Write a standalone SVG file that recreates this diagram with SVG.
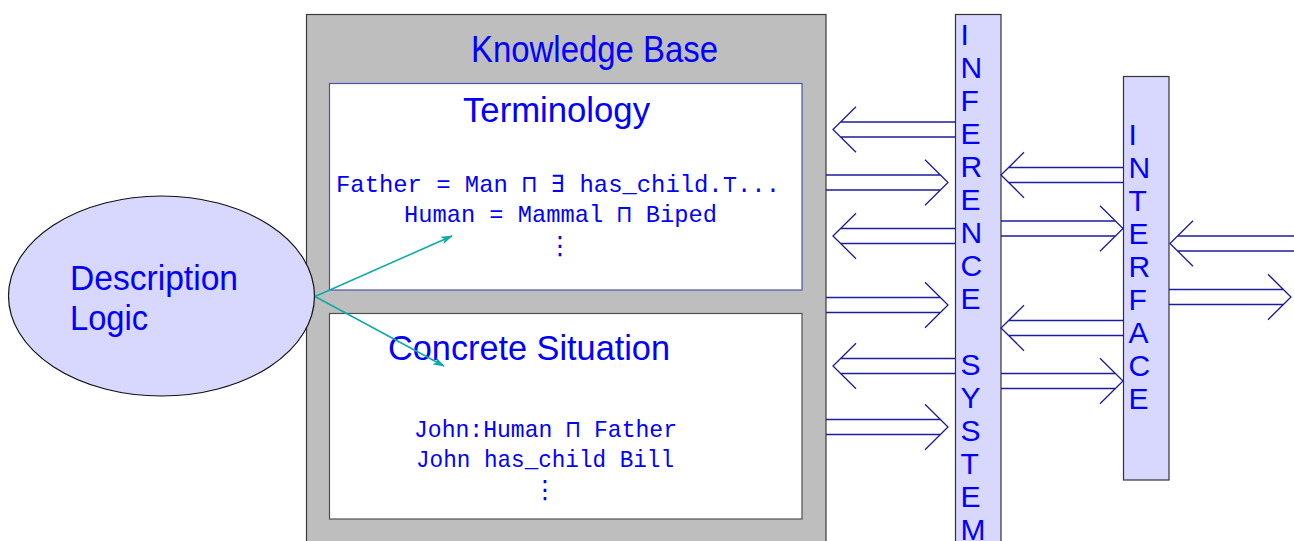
<svg xmlns="http://www.w3.org/2000/svg" xmlns:xlink="http://www.w3.org/1999/xlink" width="1294" height="541" viewBox="0 0 1294 541">
<style>
.sans{font-family:"Liberation Sans","DejaVu Sans",sans-serif;fill:#0000ff}
.mono{font-family:"Liberation Mono","DejaVu Sans Mono",monospace;fill:#0000ff;font-size:24px}
.dots{font-family:"DejaVu Sans",sans-serif;fill:#0000ff;font-size:25px}
.bar{fill:#d8d8ff;stroke:#333;stroke-width:1.2}
.letters{font-family:"Liberation Sans","DejaVu Sans",sans-serif;fill:#0000ff;font-size:30px}
.dbl{fill:none;stroke:#1c1c9c;stroke-width:1.3}
.teal{stroke:#11aaaa;stroke-width:1.6;fill:none}
</style>
<defs>
<g id="dblarrow" class="dbl">
<path d="M0,-7.5 H114.4 M0,7.5 H114.4 M99,-22.7 L122,0 L99,22.7"/>
</g>
<marker id="tealhead" viewBox="0 0 12 8" refX="11" refY="4" markerWidth="12" markerHeight="8" markerUnits="userSpaceOnUse" orient="auto">
<path d="M0,0 L12,4 L0,8 L3,4 z" fill="#11aaaa"/>
</marker>
</defs>
<rect width="1294" height="541" fill="#ffffff"/>

<g id="knowledge-base">
<rect x="306.5" y="14.5" width="519.5" height="560" fill="#bebebe" stroke="#3a3a3a" stroke-width="1.2"/>
<text class="sans" x="594.5" y="62" font-size="36" text-anchor="middle" textLength="247" lengthAdjust="spacingAndGlyphs">Knowledge Base</text>
</g>

<g id="terminology">
<rect x="329.5" y="83.5" width="472.5" height="206.5" fill="#ffffff" stroke="#5050aa" stroke-width="1.2"/>
<text class="sans" x="556.5" y="122" font-size="35" text-anchor="middle" textLength="187" lengthAdjust="spacingAndGlyphs">Terminology</text>
<text class="mono" x="558" y="192" text-anchor="middle" textLength="444" lengthAdjust="spacingAndGlyphs">Father = Man ⊓ ∃ has_child.⊤...</text>
<text class="mono" x="560.5" y="222" text-anchor="middle" textLength="313" lengthAdjust="spacingAndGlyphs">Human = Mammal ⊓ Biped</text>
<text class="dots" x="560" y="254" text-anchor="middle">⋮</text>
</g>

<g id="concrete-situation">
<rect x="329.5" y="313.5" width="472.5" height="205.5" fill="#ffffff" stroke="#505050" stroke-width="1.2"/>
<text class="sans" x="529" y="360" font-size="35" text-anchor="middle" textLength="282" lengthAdjust="spacingAndGlyphs">Concrete Situation</text>
<text class="mono" x="545.5" y="437" text-anchor="middle" textLength="263" lengthAdjust="spacingAndGlyphs">John:Human ⊓ Father</text>
<text class="mono" x="545" y="467" text-anchor="middle" textLength="258" lengthAdjust="spacingAndGlyphs">John has_child Bill</text>
<text class="dots" x="545" y="498" text-anchor="middle">⋮</text>
</g>

<g id="description-logic">
<ellipse cx="161.5" cy="296" rx="153" ry="100" fill="#d8d8ff" stroke="#111" stroke-width="1.2"/>
<text class="sans" x="70" y="290" font-size="35" textLength="168" lengthAdjust="spacingAndGlyphs">Description</text>
<text class="sans" x="70" y="330" font-size="35" textLength="78" lengthAdjust="spacingAndGlyphs">Logic</text>
</g>

<g id="inference-system">
<rect class="bar" x="955.5" y="14.5" width="45.5" height="560"/>
<text class="letters" x="960.5">
<tspan x="960.5" y="45">I</tspan><tspan x="960.5" y="78">N</tspan><tspan x="960.5" y="111">F</tspan><tspan x="960.5" y="144">E</tspan><tspan x="960.5" y="177">R</tspan><tspan x="960.5" y="210">E</tspan><tspan x="960.5" y="243">N</tspan><tspan x="960.5" y="276">C</tspan><tspan x="960.5" y="309">E</tspan><tspan x="960.5" y="375">S</tspan><tspan x="960.5" y="408">Y</tspan><tspan x="960.5" y="441">S</tspan><tspan x="960.5" y="474">T</tspan><tspan x="960.5" y="507">E</tspan><tspan x="960.5" y="540">M</tspan>
</text>
</g>

<g id="interface">
<rect class="bar" x="1123.5" y="76.5" width="45.5" height="403.5"/>
<text class="letters">
<tspan x="1128.5" y="145">I</tspan><tspan x="1128.5" y="178">N</tspan><tspan x="1128.5" y="211">T</tspan><tspan x="1128.5" y="244">E</tspan><tspan x="1128.5" y="277">R</tspan><tspan x="1128.5" y="310">F</tspan><tspan x="1128.5" y="343">A</tspan><tspan x="1128.5" y="376">C</tspan><tspan x="1128.5" y="409">E</tspan>
</text>
</g>

<g id="connectors">
<use xlink:href="#dblarrow" transform="translate(955,129.5) scale(-1,1)"/>
<use xlink:href="#dblarrow" transform="translate(826,182.5)"/>
<use xlink:href="#dblarrow" transform="translate(955,236) scale(-1,1)"/>
<use xlink:href="#dblarrow" transform="translate(826,305)"/>
<use xlink:href="#dblarrow" transform="translate(955,366) scale(-1,1)"/>
<use xlink:href="#dblarrow" transform="translate(826,427)"/>
<use xlink:href="#dblarrow" transform="translate(1123,175) scale(-1,1)"/>
<use xlink:href="#dblarrow" transform="translate(1001,228.5)"/>
<use xlink:href="#dblarrow" transform="translate(1123,328) scale(-1,1)"/>
<use xlink:href="#dblarrow" transform="translate(1001,381)"/>
<use xlink:href="#dblarrow" transform="translate(1292,243.5) scale(-1,1)"/>
<path class="dbl" d="M1292,236 H1296 M1292,251 H1296"/>
<use xlink:href="#dblarrow" transform="translate(1169,297)"/>
<line class="teal" x1="315" y1="296.5" x2="452" y2="236" marker-end="url(#tealhead)"/>
<line class="teal" x1="315" y1="296.5" x2="444" y2="366" marker-end="url(#tealhead)"/>
</g>
</svg>
